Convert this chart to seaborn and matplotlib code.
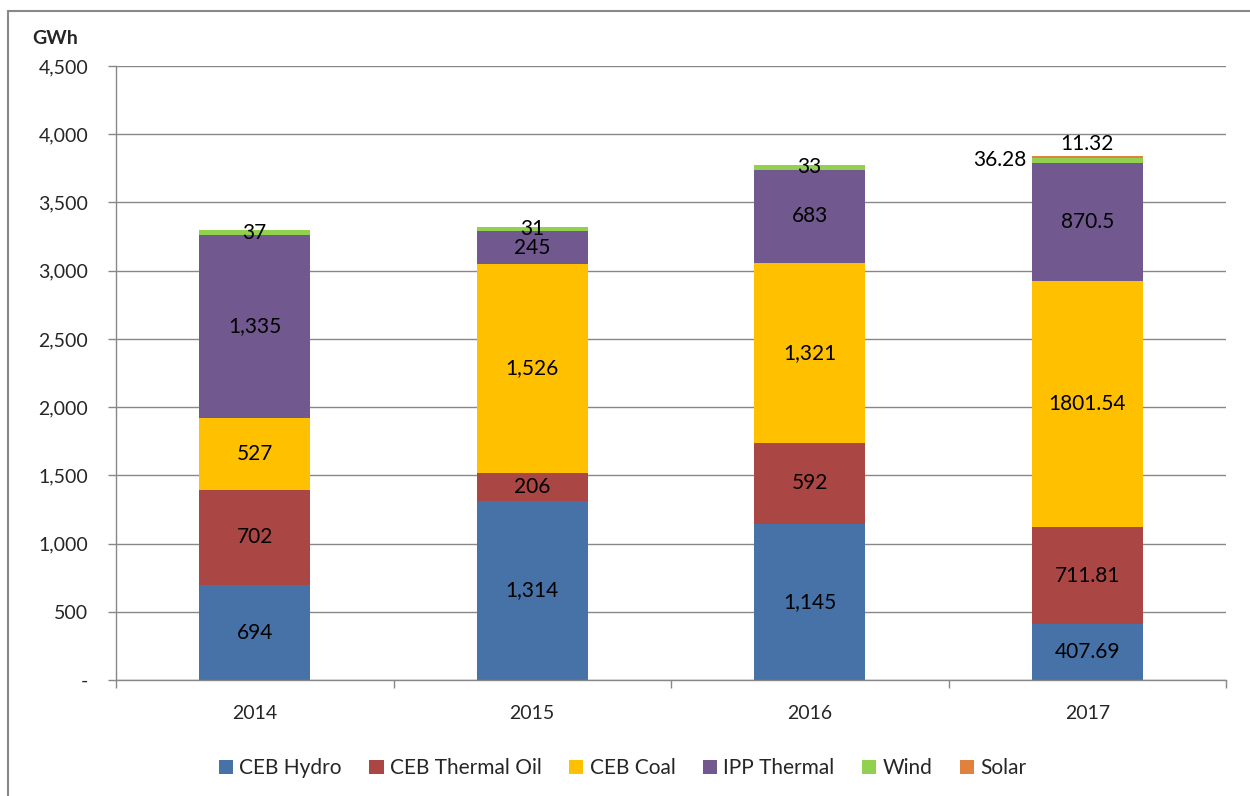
import numpy as np
import pandas as pd
import matplotlib
matplotlib.use("Agg")
import matplotlib.pyplot as plt
import seaborn as sns
from matplotlib.patches import Patch
from matplotlib.lines import Line2D

years = ["2014", "2015", "2016", "2017"]
series = ["CEB Hydro", "CEB Thermal Oil", "CEB Coal", "IPP Thermal", "Wind", "Solar"]
hydro = [694, 1314, 1145, 407.69]
oil = [702, 206, 592, 711.81]
coal = [527, 1526, 1321, 1801.54]
ipp = [1335, 245, 683, 870.5]
wind = [37, 31, 33, 36.28]
solar = [0, 0, 0, 11.32]
labels = {
    "CEB Hydro": ["694", "1,314", "1,145", "407.69"],
    "CEB Thermal Oil": ["702", "206", "592", "711.81"],
    "CEB Coal": ["527", "1,526", "1,321", "1801.54"],
    "IPP Thermal": ["1,335", "245", "683", "870.5"],
    "Wind": ["37", "31", "33", "36.28"],
    "Solar": ["", "", "", "11.32"],
}
colors = ["#4672A8", "#AA4643", "#FFC000", "#71588F", "#92D050", "#E0823D"]

sns.set_theme(style="white")
plt.rcParams["font.family"] = ["Lato", "DejaVu Sans"]

values = [hydro, oil, coal, ipp, wind, solar]
df = pd.DataFrame({s: v for s, v in zip(series, values)}, index=years)
cum = df.cumsum(axis=1)

fig = plt.figure(figsize=(12.5, 7.96), dpi=100)
ax = fig.add_axes([0.0928, 0.1457, 0.888, 0.7714])

for i in range(len(series) - 1, -1, -1):
    s = series[i]
    d = pd.DataFrame({"year": years, "val": cum[s].values})
    sns.barplot(data=d, x="year", y="val", color=colors[i], width=0.4,
                saturation=1, ax=ax, linewidth=0, errorbar=None)

for j, y in enumerate(years):
    for i, s in enumerate(series):
        txt = labels[s][j]
        if not txt:
            continue
        top = cum[s].iloc[j]
        center = top - df[s].iloc[j] / 2
        if y == "2017" and s == "Wind":
            ax.text(j - 0.22, center, txt, ha="right", va="center", fontsize=15, color="black")
        elif y == "2017" and s == "Solar":
            ax.text(j, top + 15, txt, ha="center", va="bottom", fontsize=15, color="black")
        else:
            ax.text(j, center, txt, ha="center", va="center", fontsize=15, color="black")

ax.set_xlim(-0.5, 3.5)
ax.set_ylim(0, 4500)
yt = np.arange(0, 4501, 500)
ax.set_yticks(yt)
ax.set_yticklabels(["-"] + [f"{v:,}" for v in yt[1:]], fontsize=14)
ax.set_xticks(range(4))
ax.set_xticklabels(years, fontsize=14)
ax.set_xticks([-0.5, 0.5, 1.5, 2.5, 3.5], minor=True)
ax.tick_params(axis="x", which="major", length=0, pad=18, bottom=True)
ax.tick_params(axis="x", which="minor", length=6, color="#888888", width=1,
               direction="out", bottom=True)
ax.tick_params(axis="y", which="major", length=6, color="#888888", width=1,
               direction="out", pad=14, left=True)
ax.yaxis.grid(True, color="#888888", linewidth=1)
ax.set_axisbelow(True)
ax.set_xlabel("")
ax.set_ylabel("")
for sp in ["top", "right"]:
    ax.spines[sp].set_visible(False)
for sp in ["left", "bottom"]:
    ax.spines[sp].set_color("#888888")
    ax.spines[sp].set_linewidth(1)

fig.text(0.044, 0.952, "GWh", fontsize=14, fontweight="bold", ha="center", va="center")

handles = [Patch(facecolor=c, edgecolor="none", label=s) for s, c in zip(series, colors)]
fig.legend(handles=handles, loc="center", bbox_to_anchor=(0.498, 0.035), ncol=6,
           frameon=False, fontsize=15, handlelength=0.7, handleheight=0.7,
           handletextpad=0.3, columnspacing=1.3)

# outer chart border (top and left visible in reference)
fig.add_artist(Line2D([0.0064, 1.0], [0.986, 0.986], transform=fig.transFigure,
                      color="#888888", linewidth=1.5))
fig.add_artist(Line2D([0.0064, 0.0064], [0.0, 0.986], transform=fig.transFigure,
                      color="#888888", linewidth=1.5))

fig.savefig("out.png", dpi=100)
